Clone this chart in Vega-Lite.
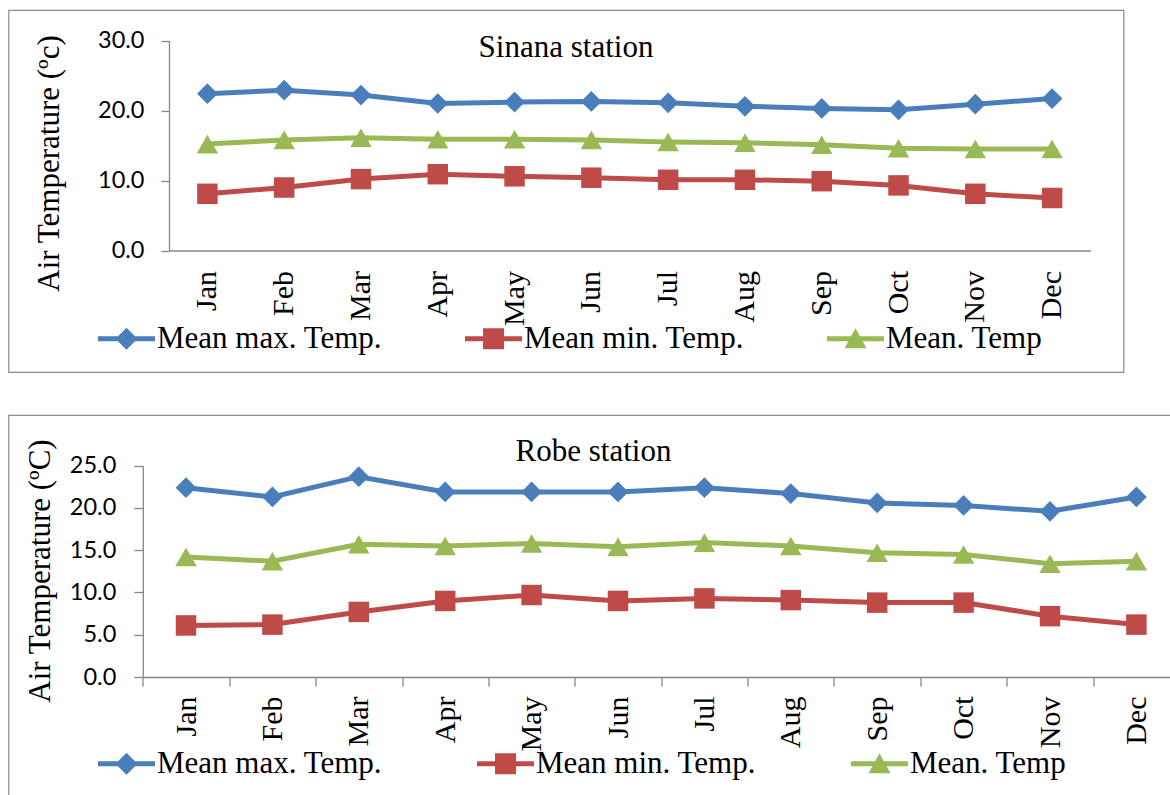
{
  "$schema": "https://vega.github.io/schema/vega-lite/v6.json",
  "padding": {"left": -7.5, "top": 9, "right": 0, "bottom": 0},
  "background": "white",
  "spacing": 41,
  "resolve": {"scale": {"color": "independent", "x": "independent", "y": "independent"}, "legend": {"color": "independent"}, "axis": {"x": "independent", "y": "independent"}},
  "config": {
    "view": {"stroke": "#8c8c8c", "strokeWidth": 1.2},
    "axis": {"domainColor": "#868686", "domainWidth": 1.3, "tickColor": "#868686", "tickWidth": 1.3, "grid": false, "labelColor": "black", "titleColor": "black"},
    "title": {"font": "Liberation Serif", "fontSize": 31, "fontWeight": "normal", "color": "black", "anchor": "middle", "frame": "group", "offset": 0, "baseline": "alphabetic"},
    "legend": {"padding": 0}
  },
  "datasets": {
    "sinana": [
      {"month": "Jan", "series": "Mean max. Temp.", "temp": 22.4},
      {"month": "Feb", "series": "Mean max. Temp.", "temp": 22.9},
      {"month": "Mar", "series": "Mean max. Temp.", "temp": 22.2},
      {"month": "Apr", "series": "Mean max. Temp.", "temp": 21.0},
      {"month": "May", "series": "Mean max. Temp.", "temp": 21.2},
      {"month": "Jun", "series": "Mean max. Temp.", "temp": 21.3},
      {"month": "Jul", "series": "Mean max. Temp.", "temp": 21.1},
      {"month": "Aug", "series": "Mean max. Temp.", "temp": 20.6},
      {"month": "Sep", "series": "Mean max. Temp.", "temp": 20.3},
      {"month": "Oct", "series": "Mean max. Temp.", "temp": 20.1},
      {"month": "Nov", "series": "Mean max. Temp.", "temp": 20.9},
      {"month": "Dec", "series": "Mean max. Temp.", "temp": 21.7},
      {"month": "Jan", "series": "Mean min. Temp.", "temp": 8.1},
      {"month": "Feb", "series": "Mean min. Temp.", "temp": 9.0},
      {"month": "Mar", "series": "Mean min. Temp.", "temp": 10.2},
      {"month": "Apr", "series": "Mean min. Temp.", "temp": 10.9},
      {"month": "May", "series": "Mean min. Temp.", "temp": 10.6},
      {"month": "Jun", "series": "Mean min. Temp.", "temp": 10.4},
      {"month": "Jul", "series": "Mean min. Temp.", "temp": 10.1},
      {"month": "Aug", "series": "Mean min. Temp.", "temp": 10.1},
      {"month": "Sep", "series": "Mean min. Temp.", "temp": 9.9},
      {"month": "Oct", "series": "Mean min. Temp.", "temp": 9.3},
      {"month": "Nov", "series": "Mean min. Temp.", "temp": 8.1},
      {"month": "Dec", "series": "Mean min. Temp.", "temp": 7.5},
      {"month": "Jan", "series": "Mean. Temp", "temp": 15.2},
      {"month": "Feb", "series": "Mean. Temp", "temp": 15.8},
      {"month": "Mar", "series": "Mean. Temp", "temp": 16.1},
      {"month": "Apr", "series": "Mean. Temp", "temp": 15.9},
      {"month": "May", "series": "Mean. Temp", "temp": 15.9},
      {"month": "Jun", "series": "Mean. Temp", "temp": 15.8},
      {"month": "Jul", "series": "Mean. Temp", "temp": 15.5},
      {"month": "Aug", "series": "Mean. Temp", "temp": 15.4},
      {"month": "Sep", "series": "Mean. Temp", "temp": 15.1},
      {"month": "Oct", "series": "Mean. Temp", "temp": 14.6},
      {"month": "Nov", "series": "Mean. Temp", "temp": 14.5},
      {"month": "Dec", "series": "Mean. Temp", "temp": 14.5}
    ],
    "robe": [
      {"month": "Jan", "series": "Mean max. Temp.", "temp": 22.4},
      {"month": "Feb", "series": "Mean max. Temp.", "temp": 21.3},
      {"month": "Mar", "series": "Mean max. Temp.", "temp": 23.7},
      {"month": "Apr", "series": "Mean max. Temp.", "temp": 21.9},
      {"month": "May", "series": "Mean max. Temp.", "temp": 21.9},
      {"month": "Jun", "series": "Mean max. Temp.", "temp": 21.9},
      {"month": "Jul", "series": "Mean max. Temp.", "temp": 22.4},
      {"month": "Aug", "series": "Mean max. Temp.", "temp": 21.7},
      {"month": "Sep", "series": "Mean max. Temp.", "temp": 20.6},
      {"month": "Oct", "series": "Mean max. Temp.", "temp": 20.3},
      {"month": "Nov", "series": "Mean max. Temp.", "temp": 19.6},
      {"month": "Dec", "series": "Mean max. Temp.", "temp": 21.3},
      {"month": "Jan", "series": "Mean min. Temp.", "temp": 6.1},
      {"month": "Feb", "series": "Mean min. Temp.", "temp": 6.2},
      {"month": "Mar", "series": "Mean min. Temp.", "temp": 7.7},
      {"month": "Apr", "series": "Mean min. Temp.", "temp": 9.0},
      {"month": "May", "series": "Mean min. Temp.", "temp": 9.7},
      {"month": "Jun", "series": "Mean min. Temp.", "temp": 9.0},
      {"month": "Jul", "series": "Mean min. Temp.", "temp": 9.3},
      {"month": "Aug", "series": "Mean min. Temp.", "temp": 9.1},
      {"month": "Sep", "series": "Mean min. Temp.", "temp": 8.8},
      {"month": "Oct", "series": "Mean min. Temp.", "temp": 8.8},
      {"month": "Nov", "series": "Mean min. Temp.", "temp": 7.2},
      {"month": "Dec", "series": "Mean min. Temp.", "temp": 6.2},
      {"month": "Jan", "series": "Mean. Temp", "temp": 14.2},
      {"month": "Feb", "series": "Mean. Temp", "temp": 13.7},
      {"month": "Mar", "series": "Mean. Temp", "temp": 15.7},
      {"month": "Apr", "series": "Mean. Temp", "temp": 15.5},
      {"month": "May", "series": "Mean. Temp", "temp": 15.8},
      {"month": "Jun", "series": "Mean. Temp", "temp": 15.4},
      {"month": "Jul", "series": "Mean. Temp", "temp": 15.9},
      {"month": "Aug", "series": "Mean. Temp", "temp": 15.5},
      {"month": "Sep", "series": "Mean. Temp", "temp": 14.7},
      {"month": "Oct", "series": "Mean. Temp", "temp": 14.5},
      {"month": "Nov", "series": "Mean. Temp", "temp": 13.4},
      {"month": "Dec", "series": "Mean. Temp", "temp": 13.7}
    ]
  },
  "vconcat": [
    {
      "width": 1115,
      "height": 362,
      "title": {"text": "Sinana station", "dy": 58},
      "data": {"name": "sinana"},
      "encoding": {
        "x": {
          "field": "month", "type": "ordinal",
          "sort": ["Jan", "Feb", "Mar", "Apr", "May", "Jun", "Jul", "Aug", "Sep", "Oct", "Nov", "Dec"],
          "scale": {"type": "band", "range": [160.5, 1082], "paddingInner": 0, "paddingOuter": 0},
          "axis": {"title": null, "orient": "bottom", "offset": -121.5, "ticks": false, "labelAngle": 270, "labelFont": "Liberation Serif", "labelFontSize": 30, "labelPadding": 20}
        },
        "y": {
          "field": "temp", "type": "quantitative",
          "scale": {"domain": [0, 30], "range": [240.5, 30.5], "nice": false},
          "axis": {"title": "Air Temperature (ºc)", "orient": "left", "offset": -160.5, "values": [0, 10, 20, 30], "format": ".1f", "labelFont": "Lato", "labelFontSize": 23.5, "labelPadding": 17, "tickSize": 8, "titleFont": "Liberation Serif", "titleFontSize": 31, "titleFontWeight": "normal", "titleX": -110.5, "titleY": 153, "titleBaseline": "alphabetic", "titleAngle": 270}
        },
        "color": {
          "field": "series", "type": "nominal",
          "scale": {"domain": ["Mean max. Temp.", "Mean min. Temp.", "Mean. Temp"], "range": ["#4a7ebb", "#be4b48", "#98b954"]},
          "legend": {
            "orient": "none", "legendX": 86, "legendY": 313, "direction": "horizontal", "title": null,
            "labelFont": "Liberation Serif", "labelFontSize": 31, "labelColor": "black", "labelLimit": 0,
            "symbolSize": 400, "symbolStrokeWidth": 0, "labelOffset": 31.5, "columnPadding": 79,
            "encode": {"symbols": {"update": {
              "shape": {"signal": "datum.value === 'Mean max. Temp.' ? 'M-1.2,-0.25H4.5V0.25H-1.2ZM1.65,-1.1L2.75,0L1.65,1.1L0.55,0Z' : datum.value === 'Mean min. Temp.' ? 'M-1.2,-0.25H4.5V0.25H-1.2ZM0.6,-1.05H2.7V1.05H0.6Z' : 'M-1.2,-0.25H4.5V0.25H-1.2ZM1.65,-1.05L2.75,0.95H0.55Z'"},
              "fill": {"signal": "datum.value === 'Mean max. Temp.' ? '#4a7ebb' : datum.value === 'Mean min. Temp.' ? '#be4b48' : '#98b954'"},
              "stroke": {"value": null},
              "strokeWidth": {"value": 0},
              "opacity": {"value": 1},
              "fillOpacity": {"value": 1}
            }}}
          }
        }
      },
      "layer": [
        {"mark": {"type": "line", "strokeWidth": 5}},
        {"transform": [{"filter": "datum.series === 'Mean max. Temp.'"}], "mark": {"type": "point", "shape": "diamond", "size": 430, "filled": true, "opacity": 1, "strokeWidth": 0}},
        {"transform": [{"filter": "datum.series === 'Mean min. Temp.'"}], "mark": {"type": "point", "shape": "square", "size": 420, "filled": true, "opacity": 1, "strokeWidth": 0}},
        {"transform": [{"filter": "datum.series === 'Mean. Temp'"}], "mark": {"type": "point", "shape": "triangle-up", "size": 460, "filled": true, "opacity": 1, "strokeWidth": 0}}
      ]
    },
    {
      "width": 1175,
      "height": 400,
      "title": {"text": "Robe station", "dy": 57, "dx": -2.5},
      "data": {"name": "robe"},
      "encoding": {
        "x": {
          "field": "month", "type": "ordinal",
          "sort": ["Jan", "Feb", "Mar", "Apr", "May", "Jun", "Jul", "Aug", "Sep", "Oct", "Nov", "Dec"],
          "scale": {"type": "band", "range": [134.3, 1171.1], "paddingInner": 0, "paddingOuter": 0},
          "axis": {"title": null, "orient": "bottom", "offset": -138, "ticks": true, "tickBand": "extent", "tickSize": 9, "labelAngle": 270, "labelFont": "Liberation Serif", "labelFontSize": 30, "labelPadding": 10}
        },
        "y": {
          "field": "temp", "type": "quantitative",
          "scale": {"domain": [0, 25], "range": [262, 50.7], "nice": false},
          "axis": {"title": "Air Temperature (ºC)", "orient": "left", "offset": -134.3, "values": [0, 5, 10, 15, 20, 25], "format": ".1f", "labelFont": "Lato", "labelFontSize": 23.5, "labelPadding": 18, "tickSize": 9, "titleFont": "Liberation Serif", "titleFontSize": 31, "titleFontWeight": "normal", "titleX": -93.3, "titleY": 155.5, "titleBaseline": "alphabetic", "titleAngle": 270}
        },
        "color": {
          "field": "series", "type": "nominal",
          "scale": {"domain": ["Mean max. Temp.", "Mean min. Temp.", "Mean. Temp"], "range": ["#4a7ebb", "#be4b48", "#98b954"]},
          "legend": {
            "orient": "none", "legendX": 86, "legendY": 333, "direction": "horizontal", "title": null,
            "labelFont": "Liberation Serif", "labelFontSize": 31, "labelColor": "black", "labelLimit": 0,
            "symbolSize": 400, "symbolStrokeWidth": 0, "labelOffset": 31.5, "columnPadding": 91,
            "encode": {"symbols": {"update": {
              "shape": {"signal": "datum.value === 'Mean max. Temp.' ? 'M-1.2,-0.25H4.5V0.25H-1.2ZM1.65,-1.1L2.75,0L1.65,1.1L0.55,0Z' : datum.value === 'Mean min. Temp.' ? 'M-1.2,-0.25H4.5V0.25H-1.2ZM0.6,-1.05H2.7V1.05H0.6Z' : 'M-1.2,-0.25H4.5V0.25H-1.2ZM1.65,-1.05L2.75,0.95H0.55Z'"},
              "fill": {"signal": "datum.value === 'Mean max. Temp.' ? '#4a7ebb' : datum.value === 'Mean min. Temp.' ? '#be4b48' : '#98b954'"},
              "stroke": {"value": null},
              "strokeWidth": {"value": 0},
              "opacity": {"value": 1},
              "fillOpacity": {"value": 1}
            }}}
          }
        }
      },
      "layer": [
        {"mark": {"type": "line", "strokeWidth": 5}},
        {"transform": [{"filter": "datum.series === 'Mean max. Temp.'"}], "mark": {"type": "point", "shape": "diamond", "size": 430, "filled": true, "opacity": 1, "strokeWidth": 0}},
        {"transform": [{"filter": "datum.series === 'Mean min. Temp.'"}], "mark": {"type": "point", "shape": "square", "size": 420, "filled": true, "opacity": 1, "strokeWidth": 0}},
        {"transform": [{"filter": "datum.series === 'Mean. Temp'"}], "mark": {"type": "point", "shape": "triangle-up", "size": 460, "filled": true, "opacity": 1, "strokeWidth": 0}}
      ]
    }
  ]
}
